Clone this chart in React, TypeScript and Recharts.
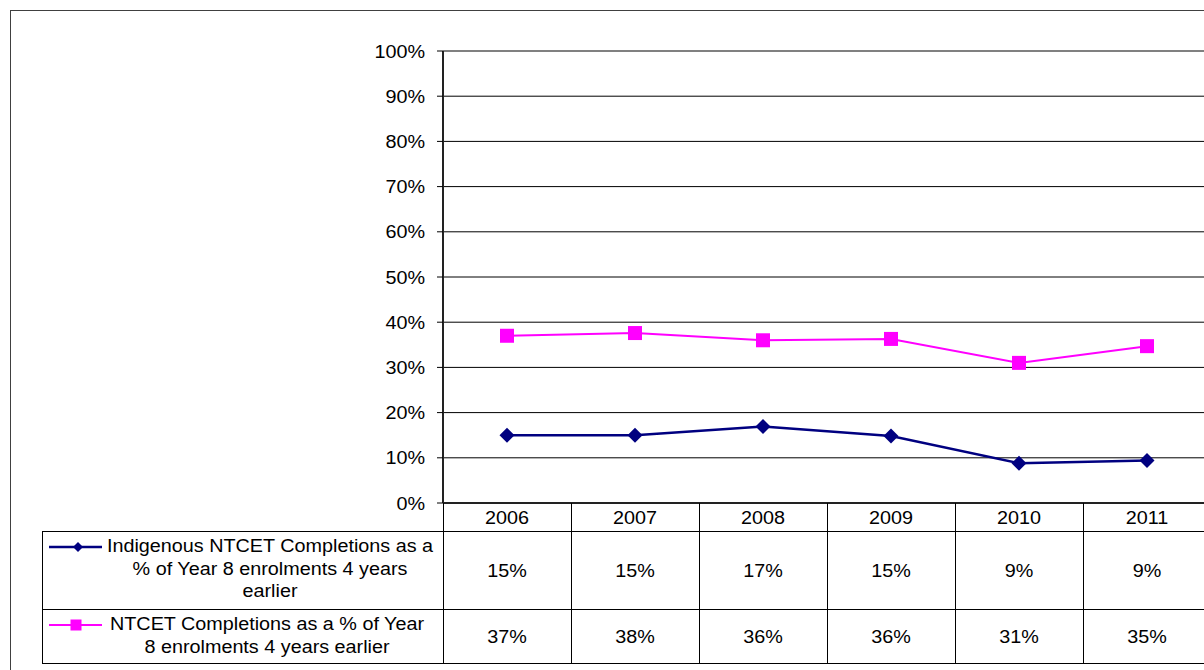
import React from 'react';
import { LineChart, Line, XAxis, YAxis, CartesianGrid, ReferenceLine } from 'recharts';

// Series values (percent) by year
const years = ['2006', '2007', '2008', '2009', '2010', '2011'];
const indigenousPct = [15.0, 15.0, 16.9, 14.8, 8.8, 9.4];
const ntcetPct = [37.0, 37.6, 36.0, 36.3, 31.0, 34.7];
const yTicks = [0, 10, 20, 30, 40, 50, 60, 70, 80, 90, 100];

const indigenousLabel = ['Indigenous NTCET Completions as a', '% of Year 8 enrolments 4 years', 'earlier'];
const ntcetLabel = ['NTCET Completions as a % of Year', '8 enrolments 4 years earlier'];

const data = years.map((year, i) => ({ year, indigenous: indigenousPct[i], ntcet: ntcetPct[i] }));

// Layout
const FONT = '"Liberation Sans", Arial, sans-serif';
const FONT_SIZE = 18.5;
const STRETCH = 1.07;
const CHART_W = 1212;
const CHART_H = 670;
const PLOT_LEFT = 443;
const PLOT_TOP = 51;
const PLOT_BOTTOM = 503;
const PLOT_RIGHT = 1211;
const BAND = (PLOT_RIGHT - PLOT_LEFT) / years.length;
const HEAD_BOTTOM = 531;
const ROW1_BOTTOM = 609;
const ROW2_BOTTOM = 663;
const TABLE_LEFT = 42;
const LABEL_CENTER = 270;

const NAVY = '#000080';
const MAGENTA = '#FF00FF';

const pct = (v: number) => `${Math.round(v)}%`;

function WideText({ x, y, anchor, children }: { x: number; y: number; anchor: string; children: React.ReactNode }) {
  return (
    <text
      transform={`translate(${x},${y}) scale(${STRETCH},1)`}
      textAnchor={anchor}
      fontSize={FONT_SIZE}
      fontFamily={FONT}
      fill="#000"
    >
      {children}
    </text>
  );
}

function Diamond({ cx, cy, r, fill }: { cx: number; cy: number; r: number; fill: string }) {
  return <path d={`M${cx},${cy - r} L${cx + r},${cy} L${cx},${cy + r} L${cx - r},${cy} Z`} fill={fill} />;
}

function Square({ cx, cy, s, fill }: { cx: number; cy: number; s: number; fill: string }) {
  return <rect x={cx - s / 2} y={cy - s / 2} width={s} height={s} fill={fill} />;
}

const diamondDot = (props: any) => {
  const { cx, cy, index } = props;
  if (cx == null || cy == null) return <g key={`dm-${index}`} />;
  return <Diamond key={`dm-${index}`} cx={cx} cy={cy} r={7.5} fill={NAVY} />;
};

const squareDot = (props: any) => {
  const { cx, cy, index } = props;
  if (cx == null || cy == null) return <g key={`sq-${index}`} />;
  return <Square key={`sq-${index}`} cx={cx} cy={cy} s={14} fill={MAGENTA} />;
};

function PctTick(props: any) {
  const { y, payload } = props;
  return (
    <WideText x={PLOT_LEFT - 18} y={y + 6.5} anchor="end">
      {`${payload.value}%`}
    </WideText>
  );
}

// Each x tick draws its column of the data table: year header and both values
function TableColumn(props: any) {
  const { x, payload } = props;
  const i = years.indexOf(String(payload.value));
  const left = x - BAND / 2;
  return (
    <g>
      <line x1={left} x2={left} y1={PLOT_BOTTOM} y2={ROW2_BOTTOM} stroke="#000" shapeRendering="crispEdges" />
      {i === years.length - 1 && (
        <line x1={left + BAND} x2={left + BAND} y1={PLOT_BOTTOM} y2={ROW2_BOTTOM} stroke="#000" shapeRendering="crispEdges" />
      )}
      <WideText x={x} y={524} anchor="middle">{payload.value}</WideText>
      <WideText x={x} y={577} anchor="middle">{pct(indigenousPct[i])}</WideText>
      <WideText x={x} y={643} anchor="middle">{pct(ntcetPct[i])}</WideText>
    </g>
  );
}

function TableLegend() {
  return (
    <svg
      width={1204}
      height={670}
      style={{ position: 'absolute', left: 0, top: 0, pointerEvents: 'none' }}
    >
      <g shapeRendering="crispEdges" stroke="#000">
        <line x1={TABLE_LEFT} x2={1204} y1={HEAD_BOTTOM} y2={HEAD_BOTTOM} />
        <line x1={TABLE_LEFT} x2={1204} y1={ROW1_BOTTOM} y2={ROW1_BOTTOM} />
        <line x1={TABLE_LEFT} x2={1204} y1={ROW2_BOTTOM} y2={ROW2_BOTTOM} />
        <line x1={TABLE_LEFT} x2={TABLE_LEFT} y1={HEAD_BOTTOM} y2={ROW2_BOTTOM} />
      </g>
      {/* series keys */}
      <line x1={49} x2={102} y1={547} y2={547} stroke={NAVY} strokeWidth={2.5} />
      <Diamond cx={78} cy={547} r={5} fill={NAVY} />
      <line x1={49} x2={102} y1={625} y2={625} stroke={MAGENTA} strokeWidth={2} />
      <Square cx={76} cy={625} s={11} fill={MAGENTA} />
      {indigenousLabel.map((t, k) => (
        <WideText key={`il-${k}`} x={LABEL_CENTER} y={552 + k * 22.5} anchor="middle">{t}</WideText>
      ))}
      {ntcetLabel.map((t, k) => (
        <WideText key={`nl-${k}`} x={LABEL_CENTER - 3} y={630 + k * 23} anchor="middle">{t}</WideText>
      ))}
    </svg>
  );
}

export default function App() {
  return (
    <div
      style={{
        position: 'absolute',
        left: 0,
        top: 0,
        width: 1204,
        height: 670,
        overflow: 'hidden',
        background: '#fff',
        fontFamily: FONT,
      }}
    >
      <div
        style={{
          position: 'absolute',
          left: 10,
          top: 10,
          width: 1400,
          height: 900,
          border: '1px solid #404040',
        }}
      />
      <div style={{ position: 'absolute', left: 0, top: 0 }}>
        <LineChart
          width={CHART_W}
          height={CHART_H}
          data={data}
          margin={{ top: PLOT_TOP, right: CHART_W - PLOT_RIGHT, bottom: 0, left: 0 }}
        >
          <CartesianGrid vertical={false} stroke="#000" strokeWidth={1} />
          <ReferenceLine y={100} stroke="#808080" strokeWidth={2} />
          <XAxis
            dataKey="year"
            type="category"
            height={CHART_H - PLOT_BOTTOM}
            padding={{ left: BAND / 2, right: BAND / 2 }}
            axisLine={{ stroke: '#222', strokeWidth: 2 }}
            tickLine={false}
            tick={<TableColumn />}
            interval={0}
          />
          <YAxis
            width={PLOT_LEFT}
            domain={[0, 100]}
            ticks={yTicks}
            interval={0}
            axisLine={{ stroke: '#222', strokeWidth: 2 }}
            tickLine={{ stroke: '#000' }}
            tickSize={6}
            tick={<PctTick />}
          />
          <Line
            type="linear"
            dataKey="indigenous"
            stroke={NAVY}
            strokeWidth={2.5}
            dot={diamondDot}
            activeDot={false}
            isAnimationActive={false}
          />
          <Line
            type="linear"
            dataKey="ntcet"
            stroke={MAGENTA}
            strokeWidth={2}
            dot={squareDot}
            activeDot={false}
            isAnimationActive={false}
          />
        </LineChart>
      </div>
      <TableLegend />
    </div>
  );
}
